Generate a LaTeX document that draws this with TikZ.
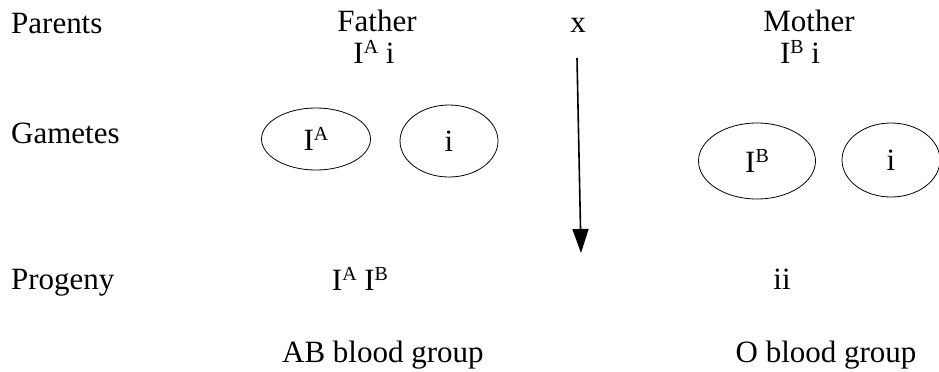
\documentclass[tikz,border=0pt]{standalone}
\usepackage{fontspec}
\setmainfont{Liberation Serif}
\usetikzlibrary{arrows.meta,shapes.geometric}
\newcommand{\allele}[1]{I\raisebox{0.3em}{\fontsize{20}{20}\selectfont #1}}
\tikzset{txt/.style={inner sep=0pt,anchor=base},
  gamete/.style={draw,ellipse,line width=0.8pt,inner sep=0pt}}

\begin{document}
\begin{tikzpicture}[x=1bp,y=-1bp,font=\fontsize{31.1}{37}\selectfont]
\useasboundingbox (0,0) rectangle (939,371);
% row labels
\node[txt,anchor=base west] (parents) at (11,33) {Parents};
\node[txt,anchor=base west] (gametes) at (11,143) {Gametes};
\node[txt,anchor=base west] (progeny) at (11,289) {Progeny};
% parents
\node[txt] (father) at (377,31) {Father};
\node[txt] (cross) at (578,32) {x};
\node[txt] (mother) at (809,31) {Mother};
\node[txt] (fgeno) at (374,63) {\allele{A} i};
\node[txt] (mgeno) at (800,63) {\allele{B} i};
% gametes
\node[gamete,minimum width=109bp,minimum height=62bp] (gA) at (316,139) {\allele{A}};
\node[gamete,minimum width=98bp,minimum height=72bp] (gi1) at (449,141) {i};
\node[gamete,minimum width=117bp,minimum height=76bp] (gB) at (757,161) {\allele{B}};
\node[gamete,minimum width=98bp,minimum height=74bp] (gi2) at (891,160) {i};
% arrow
\coordinate (atop) at (577,58);
\coordinate (abot) at (581,253);
\draw[line width=1.6bp,-{Triangle[width=16bp,length=24bp]}] (atop) -- (abot);
% progeny
\node[txt] (ab) at (360,290) {\allele{A} \allele{B}};
\node[txt] (oo) at (782,289) {ii};
\node[txt,anchor=base west] (abgroup) at (282,362) {AB blood group};
\node[txt] (ogroup) at (826,362) {O blood group};
\end{tikzpicture}
\end{document}
